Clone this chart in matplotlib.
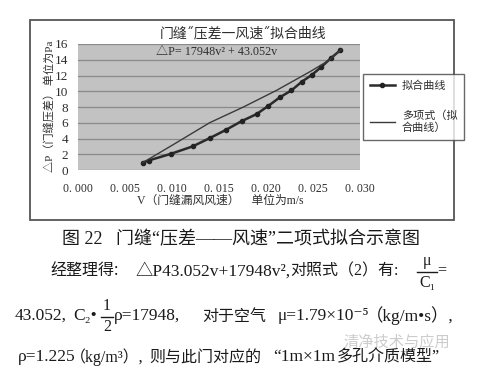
import matplotlib
matplotlib.use("Agg")
import matplotlib.pyplot as plt
from matplotlib.patches import Rectangle
from matplotlib.lines import Line2D

# ---------------- data ----------------
fit_v = [0.0069, 0.0075, 0.0099, 0.0122, 0.0140, 0.0157, 0.0174, 0.0190,
         0.0202, 0.0215, 0.0227, 0.0238, 0.0249, 0.0259, 0.0269, 0.0279]
fit_p = [0.94, 1.2, 2.06, 3.0, 4.04, 5.07, 6.2, 7.1,
         8.1, 9.25, 10.1, 11.2, 12.1, 13.1, 14.2, 15.2]
poly_v = [0.0069, 0.0101, 0.0140, 0.0176, 0.0211, 0.0247, 0.0268, 0.0280]
poly_p = [0.94, 3.2, 6.0, 8.0, 10.1, 12.5, 14.0, 15.3]

x_ticks = [0.000, 0.005, 0.010, 0.015, 0.020, 0.025, 0.030]
x_ticklabels = ["0. 000", "0. 005", "0. 010", "0. 015", "0. 020", "0. 025", "0. 030"]
y_ticks = [0, 2, 4, 6, 8, 10, 12, 14, 16]

series_names = ["拟合曲线", "多项式（拟\n合曲线）"]
chart_title = "门缝˝压差一风速˝拟合曲线"
equation = "△P= 17948v² + 43.052v"
x_label = "V（门缝漏风风速）    单位为m/s"
y_label = "△P（门缝压差） 单位为Pa"

# ---------------- figure ----------------
W, H = 492, 374
fig = plt.figure(figsize=(W / 100, H / 100), dpi=100)
fig.patch.set_facecolor("white")

def P(x, y):
    return (x / W, 1 - y / H)

CJK = ["Noto Sans CJK SC", "DejaVu Sans"]
SER = ["Liberation Serif", "Noto Sans CJK SC", "DejaVu Sans"]
chart_col = "#2e2e2e"

# chart outer box
fig.patches.append(Rectangle(P(30, 220), 424 / W, 200 / H, transform=fig.transFigure,
                             fill=False, edgecolor="#555555", linewidth=1.3))

# plot area
L, R, T, B = 78, 360, 44, 170
ax = fig.add_axes([L / W, 1 - B / H, (R - L) / W, (B - T) / H])
ax.set_facecolor("#c2c2c2")
for s in ax.spines.values():
    s.set_visible(False)
ax.set_xlim(0, 0.030)
ax.set_ylim(0, 16)
ax.set_xticks(x_ticks)
ax.set_xticklabels(x_ticklabels, family=SER, fontsize=8.5, color=chart_col)
ax.set_yticks(y_ticks)
ax.set_yticklabels([str(t) for t in y_ticks], family=SER, fontsize=9.5, color=chart_col)
ax.tick_params(axis="both", length=0)
ax.tick_params(axis="y", pad=7)
ax.tick_params(axis="x", pad=9)
ax.yaxis.grid(True, color="#8a8a8a", linewidth=0.9)
ax.set_axisbelow(True)

l1, = ax.plot(fit_v, fit_p, color="#2a2a2a", linewidth=1.8, marker="o",
              markersize=3, markerfacecolor="#222222", markeredgecolor="#222222")
l2, = ax.plot(poly_v, poly_p, color="#3a3a3a", linewidth=1.0)

ax.text(0.0083, 15.0, equation, family=SER, fontsize=8.7, color=chart_col,
        ha="left", va="center")

fig.text(*P(243, 33), chart_title, family=CJK, fontsize=10, color=chart_col,
         ha="center", va="center")
fig.text(*P(220, 201), x_label, family=SER, fontsize=8.5, color=chart_col,
         ha="center", va="center")
fig.text(*P(49, 106), y_label, family=SER, fontsize=8, color=chart_col,
         ha="center", va="center", rotation=90)

leg = fig.legend([l1, l2], series_names, loc="upper left",
                 bbox_to_anchor=P(363, 74), prop={"family": CJK, "size": 8},
                 frameon=True, fancybox=False, edgecolor="#444444",
                 labelspacing=1.7, handlelength=2.3, handletextpad=0.6,
                 borderpad=0.6, borderaxespad=0)
leg.get_frame().set_linewidth(1.0)
for t in leg.get_texts():
    t.set_color(chart_col)

# ---------------- text below the chart ----------------
txt_col = "#1a1a1a"
fs = 11.5
fig.text(*P(241, 240), "图 22   门缝“压差——风速”二项式拟合示意图", family=SER,
         fontsize=13, color=txt_col, ha="center", va="center")

row2 = 271
fig.text(*P(50, row2), "经整理得:", family=CJK, fontsize=fs, color=txt_col, va="center")
fig.text(*P(135, row2), "△P43.052v+17948v²,", family=SER, fontsize=fs + 1, color=txt_col, va="center")
fig.text(*P(290, row2), "对照式（2）有:", family=SER, fontsize=fs, color=txt_col, va="center")
fig.text(*P(427, 261), "μ", family=SER, fontsize=fs, color=txt_col, ha="center", va="center")
fig.text(*P(427, 283), "C₁", family=SER, fontsize=fs, color=txt_col, ha="center", va="center")
fig.add_artist(Line2D([417 / W, 437 / W], [1 - 272 / H, 1 - 272 / H], color=txt_col, linewidth=1))
fig.text(*P(437, 270), "=", family=SER, fontsize=fs, color=txt_col, va="center")

row3 = 316
fig.text(*P(15, row3), "43.052,", family=SER, fontsize=fs + 1, color=txt_col, va="center")
fig.text(*P(73, row3), "C₂•", family=SER, fontsize=fs + 1, color=txt_col, va="center")
fig.text(*P(107, 306), "1", family=SER, fontsize=fs, color=txt_col, ha="center", va="center")
fig.text(*P(107, 327), "2", family=SER, fontsize=fs, color=txt_col, ha="center", va="center")
fig.add_artist(Line2D([101 / W, 113 / W], [1 - 317 / H, 1 - 317 / H], color=txt_col, linewidth=1))
fig.text(*P(114, row3), "ρ=17948,", family=SER, fontsize=fs + 1, color=txt_col, va="center")
fig.text(*P(202, row3), "对于空气", family=CJK, fontsize=fs, color=txt_col, va="center")
fig.text(*P(278, row3), "μ=1.79×10⁻⁵", family=SER, fontsize=fs + 1, color=txt_col, va="center")
fig.text(*P(366, row3), "（kg/m•s）,", family=SER, fontsize=fs + 1, color=txt_col, va="center")

# watermark
fig.text(*P(343, 342), "清净技术与应用", family=CJK, fontsize=11, color="#cccccc", va="center")

row4 = 357
fig.text(*P(18, row4), "ρ=1.225", family=SER, fontsize=fs + 1, color=txt_col, va="center")
fig.text(*P(70, row4), "（kg/m³）,", family=SER, fontsize=fs, color=txt_col, va="center")
fig.text(*P(149, row4), "则与此门对应的", family=CJK, fontsize=fs, color=txt_col, va="center")
fig.text(*P(273, row4), "“1m×1m", family=SER, fontsize=fs + 1, color=txt_col, va="center")
fig.text(*P(337, row4), "多孔介质模型”", family=SER, fontsize=fs, color=txt_col, va="center")

fig.savefig("out.png", dpi=100, facecolor="white")
